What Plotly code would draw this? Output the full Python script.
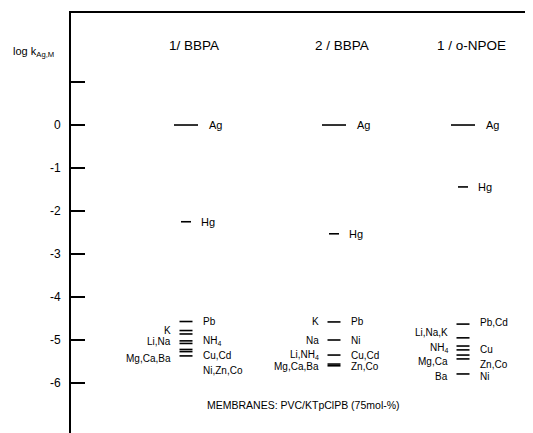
import plotly.graph_objects as go

# ---------------- data ----------------
columns = ["1/ BBPA", "2 / BBPA", "1 / o-NPOE"]

# log k(Ag,M) values: reference ion Ag, Hg, then the cluster of other ions
ag_values = [0.0, 0.0, 0.0]
hg_values = [-2.25, -2.53, -1.44]
cluster_values = [
    [-4.57, -4.78, -4.86, -5.02, -5.08, -5.22, -5.27, -5.37],
    [-4.58, -5.0, -5.35, -5.56, -5.6],
    [-4.63, -4.95, -5.14, -5.23, -5.35, -5.44, -5.79],
]
# labels right of the cluster lines: (text, log k)
right_labels = [
    [("Pb", -4.57), ("NH<sub>4</sub>", -5.02), ("Cu,Cd", -5.37), ("Ni,Zn,Co", -5.71)],
    [("Pb", -4.58), ("Ni", -5.0), ("Cu,Cd", -5.35), ("Zn,Co", -5.62)],
    [("Pb,Cd", -4.6), ("Cu", -5.23), ("Zn,Co", -5.58), ("Ni", -5.85)],
]
# labels left of the cluster lines
left_labels = [
    [("K", -4.77), ("Li,Na", -5.04), ("Mg,Ca,Ba", -5.42)],
    [("K", -4.58), ("Na", -5.0), ("Li,NH<sub>4</sub>", -5.35), ("Mg,Ca,Ba", -5.62)],
    [("Li,Na,K", -4.83), ("NH<sub>4</sub>", -5.19), ("Mg,Ca", -5.5), ("Ba", -5.84)],
]
y_tick_vals = [1, 0, -1, -2, -3, -4, -5, -6]
y_tick_text = ["", "0", "-1", "-2", "-3", "-4", "-5", "-6"]
y_title = "log k<sub>Ag,M</sub>"
footnote = "MEMBRANES: PVC/KTpClPB (75mol-%)"

# ---------------- layout constants ----------------
col_x = [115, 263, 392]      # column centres (x axis in pixel-like units)
ag_half = 12
hg_half = 5
cl_half = 6.5
FONT = "Liberation Sans, Arial, sans-serif"
PAGE_OFFSET = 8              # default body margin of the html page
X_SPAN = 462

fig = go.Figure()

xs, ys = [], []
for i, c in enumerate(col_x):
    xs += [c - ag_half, c + ag_half, None]
    ys += [ag_values[i], ag_values[i], None]
    xs += [c - hg_half, c + hg_half, None]
    ys += [hg_values[i], hg_values[i], None]
    for v in cluster_values[i]:
        xs += [c - cl_half, c + cl_half, None]
        ys += [v, v, None]

fig.add_trace(go.Scatter(x=xs, y=ys, mode="lines",
                         line=dict(color="black", width=1.6),
                         hoverinfo="skip", showlegend=False))

ann = []
def txt(x, y, t, anchor, size=10.5, xref="x"):
    ann.append(dict(x=x, y=y, xref=xref, yref="y", text=t, showarrow=False,
                    xanchor=anchor, yanchor="middle",
                    font=dict(family=FONT, size=size, color="black")))

for i, c in enumerate(col_x):
    txt(c + 8, 1.86, columns[i], "center", 13.5)
    txt(c + ag_half + 9, ag_values[i], "Ag", "left", 11)
    txt(c + hg_half + 8, hg_values[i], "Hg", "left", 11)
    for t, v in right_labels[i]:
        txt(c + cl_half + 8, v, t, "left", 10)
    for t, v in left_labels[i]:
        txt(c - cl_half - 7, v, t, "right", 10)

txt(-60 / X_SPAN, 1.70, y_title, "left", 11, xref="paper")
txt(232, -6.51, footnote, "center", 10.5)

fig.update_layout(
    width=533 - PAGE_OFFSET, height=433 - PAGE_OFFSET,
    margin=dict(l=71 - PAGE_OFFSET, r=0, t=13 - PAGE_OFFSET, b=0),
    paper_bgcolor="white", plot_bgcolor="white",
    annotations=ann,
    xaxis=dict(range=[0, X_SPAN], side="top", showline=True, linecolor="black",
               linewidth=1.6, showgrid=False, zeroline=False,
               showticklabels=False, ticks=""),
    yaxis=dict(range=[-7.163, 2.605], showline=True, linecolor="black",
               linewidth=2, showgrid=False, zeroline=False,
               tickvals=y_tick_vals, ticktext=y_tick_text,
               ticks="inside", ticklen=14, tickwidth=1.5, tickcolor="black",
               ticklabelstandoff=6,
               tickfont=dict(family=FONT, size=12, color="black")),
)

fig.write_html("out.html")
